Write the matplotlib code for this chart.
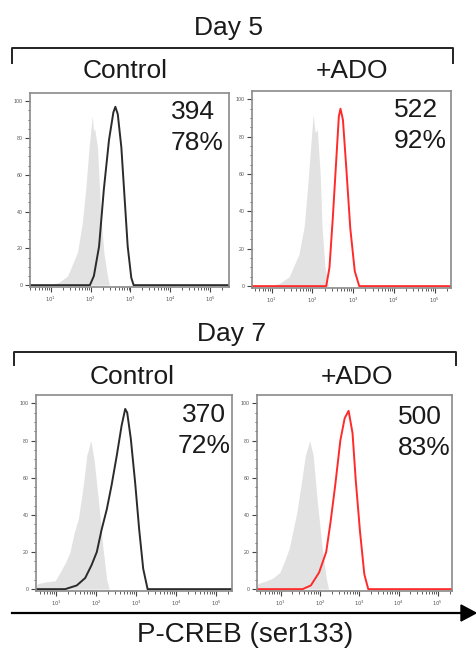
import numpy as np
import matplotlib
matplotlib.use("Agg")
import matplotlib.pyplot as plt
from matplotlib.ticker import FixedLocator, MultipleLocator, NullFormatter

plt.rcParams['font.family'] = ['Liberation Sans', 'DejaVu Sans']

W, H = 476, 648

# ---- histogram traces: x in log10(fluorescence), y in % of max ----
# Day 5, control: isotype (grey fill) and P-CREB stain (black line)
d5_ctrl_iso_x = [0.95, 1.20, 1.42, 1.67, 1.79, 1.875, 1.96, 2.04, 2.07, 2.10, 2.17, 2.25, 2.33, 2.42, 2.47]
d5_ctrl_iso_y = [0, 1.5, 5, 18, 34, 52, 75, 92, 84, 85, 75, 40, 18, 5, 0]
d5_ctrl_x = [1.98, 2.08, 2.21, 2.33, 2.46, 2.57, 2.62, 2.68, 2.77, 2.85, 2.93, 3.02, 3.08]
d5_ctrl_y = [0, 5, 21, 52, 79, 94, 97, 93, 75, 48, 21, 4, 0]

# Day 5, +ADO: isotype (grey fill) and P-CREB stain (red line)
d5_ado_iso_x = [0.95, 1.20, 1.43, 1.67, 1.80, 1.88, 1.96, 2.02, 2.07, 2.12, 2.19, 2.24, 2.31, 2.39]
d5_ado_iso_y = [0, 1.5, 5, 17, 32, 52, 75, 92, 82, 84, 61, 31, 10, 0]
d5_ado_x = [2.34, 2.42, 2.50, 2.59, 2.65, 2.69, 2.75, 2.83, 2.93, 3.04, 3.15]
d5_ado_y = [0, 10, 36, 69, 91, 95, 89, 64, 31, 8, 0]

# Day 7, control
d7_ctrl_iso_x = [0.50, 0.55, 0.77, 0.98, 1.10, 1.23, 1.35, 1.45, 1.56, 1.67, 1.77, 1.87, 1.95, 2.06, 2.18, 2.27, 2.33]
d7_ctrl_iso_y = [2, 3, 4, 4.5, 9, 14, 20, 30, 38, 54, 72, 80, 70, 48, 21, 5, 0]
d7_ctrl_x = [1.23, 1.52, 1.73, 1.89, 2.02, 2.14, 2.27, 2.39, 2.52, 2.64, 2.73, 2.78, 2.87, 2.98, 3.08, 3.18, 3.29]
d7_ctrl_y = [0, 2, 6, 13, 20, 32, 43, 56, 72, 88, 97, 95, 81, 57, 32, 11, 0]

# Day 7, +ADO
d7_ado_iso_x = [0.40, 0.43, 0.64, 0.81, 0.98, 1.10, 1.22, 1.31, 1.41, 1.52, 1.63, 1.74, 1.83, 1.93, 2.06, 2.16, 2.22]
d7_ado_iso_y = [2, 3, 4.5, 6, 9, 15, 22, 31, 41, 56, 72, 80, 72, 48, 22, 6, 0]
d7_ado_x = [1.56, 1.77, 1.98, 2.16, 2.27, 2.39, 2.52, 2.63, 2.73, 2.83, 2.91, 3.02, 3.13, 3.23]
d7_ado_y = [0, 2, 9, 20, 36, 56, 80, 92, 96, 84, 59, 31, 8, 0]

# MFI / percent-positive annotations
mfi_labels = ["394", "522", "370", "500"]
pct_labels = ["78%", "92%", "72%", "83%"]
day_labels = ["Day 5", "Day 7"]
group_labels = ["Control", "+ADO"]
decades = [1, 2, 3, 4, 5]
y_major = [0, 20, 40, 60, 80, 100]

fig = plt.figure(figsize=(W / 100, H / 100), dpi=100)


def px_axes(x0, y0, x1, y1):
    return fig.add_axes([x0 / W, 1 - y1 / H, (x1 - x0) / W, (y1 - y0) / H])


def fx(x):
    return x / W


def fy(y):
    return 1 - y / H


TXT = "#1a1a1a"
FS = 19
ISO_COLOR = "#e2e2e2"
panels = [
    # (axes box in px, xlim, iso x, iso y, stain x, stain y, stain colour)
    ((30, 93, 229, 287), (0.475, 5.475), d5_ctrl_iso_x, d5_ctrl_iso_y, d5_ctrl_x, d5_ctrl_y, "#2b2b2b"),
    ((252, 91, 451, 288), (0.52, 5.40), d5_ado_iso_x, d5_ado_iso_y, d5_ado_x, d5_ado_y, "#ff2a2a"),
    ((36, 395, 232, 591), (0.50, 5.40), d7_ctrl_iso_x, d7_ctrl_iso_y, d7_ctrl_x, d7_ctrl_y, "#2b2b2b"),
    ((257, 395, 452, 591), (0.40, 5.36), d7_ado_iso_x, d7_ado_iso_y, d7_ado_x, d7_ado_y, "#ff2a2a"),
]

minor_pos = [k + np.log10(m) for k in range(0, 6) for m in range(2, 10)]

for box, xlim, ix, iy, sx, sy, col in panels:
    ax = px_axes(*box)
    ax.fill_between(ix, 0, iy, color=ISO_COLOR, lw=0)
    full_x = [xlim[0]] + list(sx) + [xlim[1]]
    full_y = [0] + list(sy) + [0]
    ax.plot(full_x, full_y, color=col, lw=1.4, solid_joinstyle="round")
    ax.set_xlim(*xlim)
    ax.set_ylim(-1, 104.5)
    ax.xaxis.set_major_locator(FixedLocator(decades))
    ax.xaxis.set_minor_locator(FixedLocator([p for p in minor_pos if xlim[0] < p < xlim[1]]))
    ax.set_xticklabels([rf"$10^{{{d}}}$" for d in decades])
    ax.yaxis.set_major_locator(FixedLocator(y_major))
    ax.yaxis.set_minor_locator(MultipleLocator(5))
    ax.yaxis.set_minor_formatter(NullFormatter())
    ax.tick_params(which="major", direction="out", length=3.5, width=0.8,
                   color="#444444", labelsize=3.8, labelcolor="#555555", pad=2)
    ax.tick_params(which="minor", direction="out", length=1.8, width=0.6, color="#444444")
    for s in ax.spines.values():
        s.set_color("#8a8a8a")
        s.set_linewidth(1.2)

# MFI / % annotations
ann_pos = [(171, 112, "left"), (394, 110, "left"), (204, 415, "center"), (398, 417, "left")]
for (x, y, ma), m, p in zip(ann_pos, mfi_labels, pct_labels):
    fig.text(fx(x), fy(y), m, fontsize=FS, color=TXT, ha=ma, va="center")
    fig.text(fx(x), fy(y + 31), p, fontsize=FS, color=TXT, ha=ma, va="center")

# group headers with brackets
header_rows = [
    # day-label y, bracket y, bracket ends, tick bottom, group-label y, group-label centres, day-label x
    (28, 48, (12, 453), 63, 71, (125, 352), 229),
    (334, 352, (14, 456), 365, 377, (132, 357), 232),
]
for (dy, by, (bx0, bx1), tb, gy, (gx0, gx1), dx), day in zip(header_rows, day_labels):
    fig.text(fx(dx), fy(dy), day, fontsize=FS, color=TXT, ha="center", va="center")
    fig.add_artist(plt.Line2D([fx(bx0), fx(bx0), fx(bx1), fx(bx1)],
                              [fy(tb), fy(by), fy(by), fy(tb)],
                              color="#222222", lw=1.4, transform=fig.transFigure))
    fig.text(fx(gx0), fy(gy), group_labels[0], fontsize=FS, color=TXT, ha="center", va="center")
    fig.text(fx(gx1), fy(gy), group_labels[1], fontsize=FS, color=TXT, ha="center", va="center")

# x-axis arrow and label
fig.add_artist(plt.Line2D([fx(12), fx(462)], [fy(613), fy(613)], color="black", lw=1.6,
                          transform=fig.transFigure))
fig.add_artist(plt.Polygon([[fx(461), fy(605)], [fx(476), fy(613)], [fx(461), fy(621)]],
                           closed=True, color="black", transform=fig.transFigure))
fig.text(fx(245), fy(635), "P-CREB (ser133)", fontsize=20, color=TXT, ha="center", va="center")

fig.savefig("out.png", dpi=100, facecolor="white")
